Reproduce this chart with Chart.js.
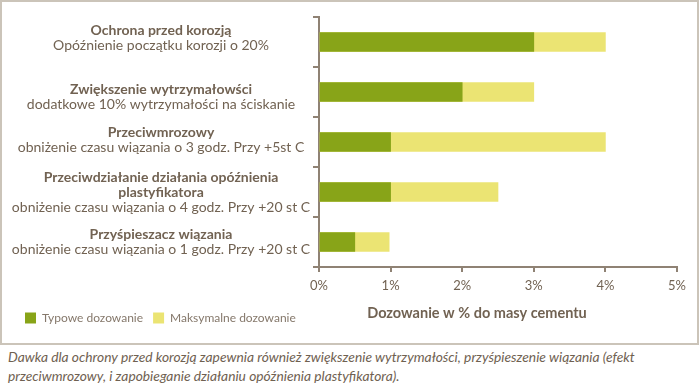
<!DOCTYPE html>
<html>
<head>
<meta charset="utf-8">
<script src="https://cdn.jsdelivr.net/npm/chart.js@4.4.1/dist/chart.umd.min.js"></script>
<style>
  body { margin: 0; background: #fff; }
  #box { position: absolute; left: 0; top: 0; width: 699px; height: 345px; box-sizing: border-box; border: 2px solid #cbc4b9; }
  #box canvas { display: block; }
  #caption { position: absolute; left: 8px; top: 347px; font: italic 13.8px Lato, sans-serif; line-height: 19px; color: #6f6151; }
</style>
</head>
<body>
<div id="box"><canvas id="chart" width="695" height="341"></canvas></div>
<div id="caption">Dawka dla ochrony przed korozją zapewnia również zwiększenie wytrzymałości, przyśpieszenie wiązania (efekt<br>przeciwmrozowy, i zapobieganie działaniu opóźnienia plastyfikatora).</div>
<script>
// kategorie (tytuł może mieć kilka linii) + opisy pod spodem
const categories = [
  "Ochrona przed korozją",
  "Zwiększenie wytrzymałowści",
  "Przeciwmrozowy",
  ["Przeciwdziałanie działania opóźnienia", "plastyfikatora"],
  "Przyśpieszacz wiązania"
];
const subtitles = [
  "Opóźnienie początku korozji o 20%",
  "dodatkowe 10% wytrzymałości na ściskanie",
  "obniżenie czasu wiązania o 3 godz. Przy +5st C",
  "obniżenie czasu wiązania o 4 godz. Przy +20 st C",
  "obniżenie czasu wiązania o 1 godz. Przy +20 st C"
];
const typowe = [3, 2, 1, 1, 0.5];
const maksymalne = [4, 3, 4, 2.5, 0.98];
const xTicks = [0, 1, 2, 3, 4, 5];
const axisTitle = "Dozowanie w % do masy cementu";

const textColor = "#716252";
const axisColor = "#8f8274";

const sideLabels = {
  id: "sideLabels",
  afterDraw(chart) {
    const ctx = chart.ctx;
    const y = chart.scales.y;
    const nudge = [-4, 5, -2, 0, 0];
    const lineH = 15;
    ctx.save();
    ctx.textAlign = "center";
    ctx.textBaseline = "middle";
    ctx.fillStyle = textColor;
    categories.forEach((title, i) => {
      const lines = [].concat(title);
      let yy = y.getPixelForValue(i) + nudge[i] - lines.length * lineH / 2;
      ctx.font = "bold 14px Lato";
      lines.forEach(l => { ctx.fillText(l, 159, yy); yy += lineH; });
      ctx.font = "14px Lato";
      ctx.fillText(subtitles[i], 159, yy);
    });
    ctx.font = "bold 14.5px Lato";
    ctx.fillText(axisTitle, 475, 311);
    ctx.restore();
  }
};

new Chart(document.getElementById("chart"), {
  type: "bar",
  data: {
    labels: categories,
    datasets: [
      { label: "Typowe dozowanie", data: typowe, backgroundColor: "#88a418", borderWidth: 0, barThickness: 19 },
      { label: "Maksymalne dozowanie", data: maksymalne, backgroundColor: "#ebe473", borderWidth: 0, barThickness: 19 }
    ]
  },
  options: {
    indexAxis: "y",
    responsive: false,
    animation: false,
    layout: { padding: { left: 13, right: 20, top: 15, bottom: 9 } },
    plugins: {
      tooltip: { enabled: false },
      legend: {
        position: "bottom",
        align: "start",
        labels: { boxWidth: 11, boxHeight: 11, padding: 10, color: "#85786b", font: { family: "Lato", size: 12 } }
      }
    },
    scales: {
      y: {
        stacked: true,
        ticks: { display: false },
        grid: { drawOnChartArea: false, tickLength: 6, color: axisColor, lineWidth: 2, offset: true },
        border: { color: axisColor, width: 2 },
        afterFit: s => { s.width = 304; }
      },
      x: {
        min: 0,
        max: 5,
        afterBuildTicks: s => { s.ticks = xTicks.map(v => ({ value: v })); },
        ticks: { callback: v => v + "%", color: textColor, padding: 6, maxRotation: 0, font: { family: "Lato", size: 13 } },
        grid: { drawOnChartArea: false, tickLength: 5, color: axisColor, lineWidth: 2 },
        border: { color: axisColor, width: 2 },
        afterFit: s => { s.height = 35; }
      }
    }
  },
  plugins: [sideLabels]
});
</script>
</body>
</html>
